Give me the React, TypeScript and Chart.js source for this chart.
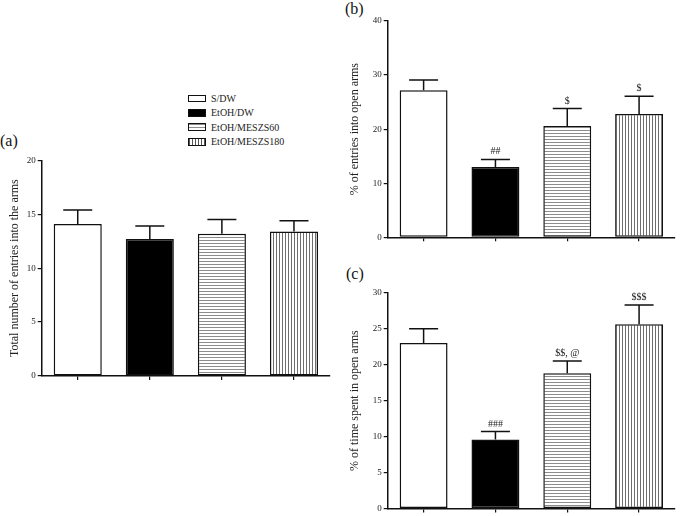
import React, { useEffect, useRef } from "react";
import { Chart, registerables } from "chart.js";
Chart.register(...registerables);

const groups = ["S/DW", "EtOH/DW", "EtOH/MESZS60", "EtOH/MESZS180"];
const entriesMean = [14.1, 12.7, 13.2, 13.4];
const entriesSem = [1.3, 1.2, 1.3, 1.0];
const openEntriesMean = [27.2, 13.0, 20.6, 22.8];
const openEntriesSem = [1.9, 1.4, 3.2, 3.3];
const openTimeMean = [23.0, 9.6, 18.8, 25.6];
const openTimeSem = [2.0, 1.1, 1.7, 2.7];
const entriesMarks = ["", "", "", ""];
const openEntriesMarks = ["", "##", "$", "$"];
const openTimeMarks = ["", "###", "$$, @", "$$$"];
const entriesTicks = [0, 5, 10, 15, 20];
const openEntriesTicks = [0, 10, 20, 30, 40];
const openTimeTicks = [0, 5, 10, 15, 20, 25, 30];

const SERIF = "'Liberation Serif', 'Times New Roman', serif";

function makePattern(kind: "h" | "v") {
  const c = document.createElement("canvas");
  const g = c.getContext("2d")!;
  if (kind === "h") {
    c.width = 4; c.height = 3;
    g.fillStyle = "#ffffff"; g.fillRect(0, 0, 4, 3);
    g.fillStyle = "#8c8c8c"; g.fillRect(0, 0, 4, 1);
  } else {
    c.width = 3; c.height = 4;
    g.fillStyle = "#ffffff"; g.fillRect(0, 0, 3, 4);
    g.fillStyle = "#6e6e6e"; g.fillRect(0, 0, 1, 4);
  }
  return g.createPattern(c, "repeat")!;
}

function makeErrPlugin(sem: number[], marks: string[]) {
  return {
    id: "errbars",
    afterDatasetsDraw(chart: any) {
      const { ctx } = chart;
      const meta = chart.getDatasetMeta(0);
      const data = chart.data.datasets[0].data as number[];
      const y = chart.scales.y;
      meta.data.forEach((bar: any, i: number) => {
        const top = y.getPixelForValue(data[i] + sem[i]);
        ctx.save();
        ctx.strokeStyle = "#111";
        ctx.lineWidth = 1.5;
        ctx.beginPath();
        ctx.moveTo(bar.x, bar.y);
        ctx.lineTo(bar.x, top);
        ctx.moveTo(bar.x - 14.5, top);
        ctx.lineTo(bar.x + 14.5, top);
        ctx.stroke();
        if (marks[i]) {
          ctx.fillStyle = "#222";
          ctx.font = `10px ${SERIF}`;
          ctx.textAlign = "center";
          ctx.textBaseline = "alphabetic";
          ctx.fillText(marks[i], bar.x, top - 5);
        }
        ctx.restore();
      });
    },
  };
}

type PanelProps = {
  left: number; top: number; width: number; height: number;
  padTop: number; padRight: number; yWidth: number; xHeight: number;
  means: number[]; sem: number[]; marks: string[]; ticks: number[]; title: string;
};

function Panel(p: PanelProps) {
  const ref = useRef<HTMLCanvasElement>(null);
  useEffect(() => {
    const fills = ["#ffffff", "#000000", makePattern("h"), makePattern("v")];
    const chart = new Chart(ref.current!, {
      type: "bar",
      data: {
        labels: groups,
        datasets: [
          {
            data: p.means,
            backgroundColor: fills as any,
            borderColor: "#111",
            borderWidth: 1.5,
            borderSkipped: false,
            categoryPercentage: 1,
            barPercentage: 0.667,
          },
        ],
      },
      options: {
        responsive: false,
        animation: false,
        layout: { padding: { top: p.padTop, right: p.padRight, left: 0, bottom: 0 } },
        plugins: { legend: { display: false }, tooltip: { enabled: false } },
        scales: {
          x: {
            offset: true,
            grid: { display: true, drawOnChartArea: false, drawTicks: true, tickLength: 4, color: "#111", offset: false, lineWidth: 1.2 },
            border: { display: true, color: "#111", width: 1.5 },
            ticks: { display: false },
            afterFit: (s: any) => { s.height = p.xHeight; },
          },
          y: {
            min: p.ticks[0],
            max: p.ticks[p.ticks.length - 1],
            ticks: {
              stepSize: p.ticks[1] - p.ticks[0],
              color: "#222",
              padding: 2,
              font: { family: SERIF, size: 9 },
            },
            grid: { display: true, drawOnChartArea: false, drawTicks: true, tickLength: 4, color: "#111", lineWidth: 1.2 },
            border: { display: true, color: "#111", width: 1.5 },
            title: {
              display: true,
              text: p.title,
              color: "#222",
              font: { family: SERIF, size: 12 },
              padding: { top: 8, bottom: 0 },
            },
            afterFit: (s: any) => { s.width = p.yWidth; },
          },
        },
      },
      plugins: [makeErrPlugin(p.sem, p.marks)],
    });
    return () => chart.destroy();
  }, []);
  return (
    <canvas
      ref={ref}
      width={p.width}
      height={p.height}
      style={{ position: "absolute", left: p.left, top: p.top, width: p.width, height: p.height }}
    />
  );
}

const swatchStyles: React.CSSProperties[] = [
  { background: "#fff", height: 5 },
  { background: "#000", height: 6 },
  { background: "repeating-linear-gradient(to bottom, #8c8c8c 0px, #8c8c8c 1px, #fff 1px, #fff 3px)", height: 6 },
  { background: "repeating-linear-gradient(to right, #555 0px, #555 1px, #fff 1px, #fff 3px)", height: 6 },
];

export default function App() {
  const labelStyle: React.CSSProperties = {
    position: "absolute", fontFamily: SERIF, fontSize: 16, lineHeight: "16px", color: "#111",
  };
  return (
    <div style={{ position: "absolute", left: 0, top: 0, width: 685, height: 516, background: "#fff", overflow: "hidden" }}>
      <div style={{ ...labelStyle, left: 0, top: 133 }}>(a)</div>
      <div style={{ ...labelStyle, left: 345, top: 1 }}>(b)</div>
      <div style={{ ...labelStyle, left: 346, top: 266 }}>(c)</div>
      {groups.map((g, i) => (
        <div key={g} style={{ position: "absolute", left: 188, top: 91 + i * 14.5, height: 14, display: "flex", alignItems: "center" }}>
          <div style={{ width: 16, border: "1.2px solid #111", ...swatchStyles[i] }} />
          <span style={{ marginLeft: 5, fontFamily: SERIF, fontSize: 10, color: "#222", whiteSpace: "nowrap" }}>{g}</span>
        </div>
      ))}
      <Panel left={0} top={150} width={340} height={240} padTop={10.3} padRight={10} yWidth={41.7} xHeight={14}
        means={entriesMean} sem={entriesSem} marks={entriesMarks} ticks={entriesTicks}
        title="Total number of entries into the arms" />
      <Panel left={340} top={10} width={345} height={240} padTop={11} padRight={10} yWidth={47.7} xHeight={12.7}
        means={openEntriesMean} sem={openEntriesSem} marks={openEntriesMarks} ticks={openEntriesTicks}
        title="% of entries into open arms" />
      <Panel left={340} top={280} width={345} height={236} padTop={12.7} padRight={10} yWidth={47.7} xHeight={6}
        means={openTimeMean} sem={openTimeSem} marks={openTimeMarks} ticks={openTimeTicks}
        title="% of time spent in open arms" />
    </div>
  );
}
